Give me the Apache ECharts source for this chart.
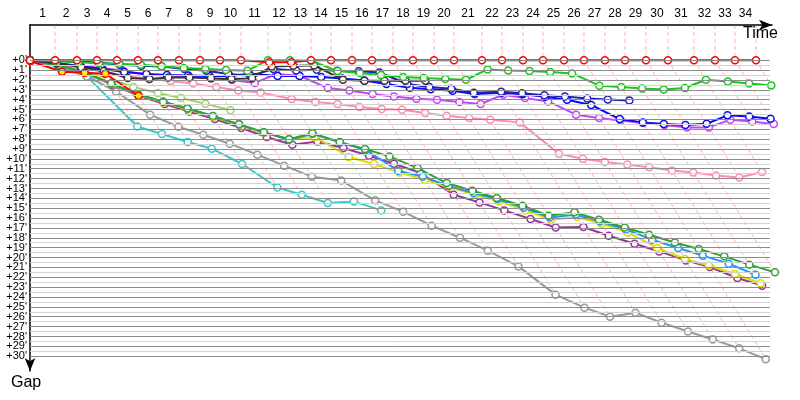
<!DOCTYPE html>
<html>
<head>
<meta charset="utf-8">
<script src="https://cdn.jsdelivr.net/npm/echarts@6/dist/echarts.min.js"></script>
<style>
  html, body { margin: 0; padding: 0; background: #fff; }
  #chart { width: 800px; height: 400px; }
</style>
</head>
<body>
<div id="chart"></div>
<script>
// leader's elapsed time (minutes) at the end of every lap, index 0 = start
var lapEnds = [0, 4.17, 7.83, 11.17, 14.5, 18.0, 21.33, 24.83, 28.33, 31.67, 35.17,
  39.67, 43.33, 46.83, 50.17, 53.67, 57.0, 60.5, 63.83, 67.33, 70.67,
  75.33, 78.67, 82.17, 85.5, 89.0, 92.33, 95.83, 99.17, 102.67, 106.33,
  110.67, 114.17, 117.5, 121.0];
// laps where the green car was in the lead
var greenLeadLaps = [11, 12];
// gap tick labels, split in two lists so neighbours never collide
var yLabelsEven = [0, 2, 4, 6, 8, 10, 12, 14, 16, 18, 20, 22, 24, 26, 28, 30];
var yLabelsOdd = [1, 3, 5, 7, 9, 11, 13, 15, 17, 19, 21, 23, 25, 27, 29];

// gap to the leader (minutes) at the end of each lap, index = lap
var gapRed = [0, 0, 0, 0, 0, 0, 0, 0, 0, 0, 0, 0.2, 0.2, 0, 0, 0, 0, 0, 0, 0, 0,
  0, 0, 0, 0, 0, 0, 0, 0, 0, 0, 0, 0, 0, 0];
var gapRed2 = [0.1, 1.17, 1.27, 1.37, 3.6];
var gapGreen = [0, 0.1, 0.2, 0.3, 0.35, 0.45, 0.6, 0.8, 0.9, 1.0, 1.06, 0, 0, 0.05,
  1.1, 1.3, 1.5, 1.7, 1.8, 1.9, 1.98, 0.93, 1.03, 1.09, 1.2, 1.34, 2.58, 2.72,
  2.86, 2.96, 2.82, 1.98, 2.15, 2.35, 2.55];
var gapBlack = [0, 0.3, 0.7, 1.1, 1.8, 1.9, 1.74, 1.74, 1.84, 1.9, 1.84, 0.63, 0.56,
  0.53, 1.98, 2.08, 2.08, 2.08, 2.08];
var gapBlue1 = [0, 0.05, 0.15, 0.22, 0.45, 0.55, 0.63, 0.9, 1.06, 1.4, 1.57, 0.9,
  1.03, 0.96, 1.06, 1.13, 1.24, 2.41, 2.72, 2.9, 3.3, 3.2, 3.35, 3.56, 3.67, 3.87,
  3.97, 4.07];
var gapBlue2 = [0, 0.3, 0.6, 0.9, 1.2, 1.4, 1.5, 1.55, 1.6, 1.6, 1.37, 1.6, 1.6, 1.7,
  1.85, 2.05, 2.41, 2.8, 2.95, 3.1, 3.43, 3.3, 3.45, 3.7, 4.0, 4.54, 5.96, 6.3,
  6.47, 6.57, 6.44, 5.59, 5.7, 5.93];
var gapViolet = [0, 0.3, 0.55, 0.8, 1.06, 1.47, 1.55, 1.65, 1.8, 2.0, 2.3, 1.4, 1.57,
  2.82, 3.06, 3.43, 3.67, 3.9, 4.0, 4.24, 4.44, 3.5, 3.83, 4.18, 5.52, 5.86, 6.1,
  6.36, 6.57, 6.81, 6.81, 6.03, 6.2, 6.47];
var gapPink = [0, 0.4, 0.8, 1.2, 1.6, 1.9, 2.1, 2.35, 2.72, 3.06, 3.26, 3.93, 4.24,
  4.44, 4.74, 4.95, 5.02, 5.35, 5.62, 5.86, 6.03, 6.3, 9.48, 9.98, 10.32, 10.56,
  10.86, 11.17, 11.37, 11.68, 11.88, 11.33];
var gapLightGreen = [0, 0.56, 1.13, 1.8, 2.72, 3.33, 3.83, 4.41, 5.08];
var gapCyan = [0, 0.7, 1.64, 6.71, 7.48, 8.29, 8.97, 10.52, 12.9, 13.63, 14.47,
  14.31, 15.22];
var gapGray = [0, 0.6, 1.6, 3.19, 5.52, 6.74, 7.55, 8.46, 9.57, 10.69, 11.8, 12.2,
  14.2, 15.35, 16.77, 17.99, 19.3, 20.9, 23.76, 25.08, 25.99, 25.59, 26.6, 27.5,
  28.3, 29.2, 30.3];
var gapPurple = [0, 0.5, 1.3, 2.48, 3.6, 4.44, 5.19, 5.96, 6.87, 7.78, 8.56, 8.23,
  8.9, 9.68, 10.49, 11.43, 13.63, 14.41, 15.22, 16.1, 16.95, 16.9, 17.79, 18.6,
  19.38, 20.29, 20.96, 22.07, 22.85];
var gapYellow = [0, 0.5, 1.25, 2.4, 3.5, 4.3, 5.0, 5.75, 6.6, 7.38, 7.99, 7.78, 9.81,
  10.52, 11.37, 12.11, 12.85, 13.63, 14.31, 15.22, 16.17, 15.89, 16.57, 17.45,
  19.03, 20.15, 20.8, 21.67, 22.6];
var gapLightBlue = [0, 0.5, 1.2, 2.35, 3.45, 4.2, 4.9, 5.65, 6.5, 7.3, 8.06, 7.45,
  8.33, 9.1, 11.2, 11.8, 12.75, 13.45, 14.1, 14.95, 15.95, 15.65, 16.35, 17.15,
  18.19, 19.03, 19.81, 20.62, 21.74];
var gapDarkGreen = [0, 0.5, 1.2, 2.35, 3.45, 4.2, 4.9, 5.65, 6.5, 7.3, 8.0, 7.4, 8.3,
  9.0, 9.75, 10.93, 12.45, 13.23, 13.97, 14.75, 15.76, 15.42, 16.17, 16.95, 17.69,
  18.47, 19.13, 19.88, 20.72, 21.5];

// drawing order: first = bottom
var cars = [
  { gaps: gapGray, color: '#9a9a9a' },
  { gaps: gapCyan, color: '#3cc8c8' },
  { gaps: gapLightGreen, color: '#a3d16e' },
  { gaps: gapPink, color: '#ff8cb0' },
  { gaps: gapPurple, color: '#993399' },
  { gaps: gapYellow, color: '#dcdc00' },
  { gaps: gapLightBlue, color: '#1a9af0' },
  { gaps: gapDarkGreen, color: '#33a033' },
  { gaps: gapViolet, color: '#c545f5' },
  { gaps: gapBlue2, color: '#0a0af0' },
  { gaps: gapBlue1, color: '#2020b8' },
  { gaps: gapBlack, color: '#333333' },
  { gaps: gapGreen, color: '#1ec31e' },
  { gaps: gapRed2, color: '#ff0000', fill: '#ffee00' },
  { gaps: gapRed, color: '#ff0000' }
];

var yTop = -3.57, yBottom = 31.5, vLineEnd = 31.9, hLineEnd = 123.33;
var font = 'Liberation Sans';

function toPoints(gaps) {
  return gaps.map(function (g, k) { return [lapEnds[k] + g, g]; });
}

var series = [];

// grid: half-minute horizontal lines and a vertical line at every lap
var gridLines = [];
for (var g = 0; g <= 30; g += 0.5) {
  gridLines.push([
    { coord: [0, g], lineStyle: { color: g % 1 === 0 ? '#8c8c8c' : '#d2d2d2' } },
    { coord: [hLineEnd, g] }
  ]);
}
lapEnds.slice(1).forEach(function (t) {
  gridLines.push([
    { coord: [t, yTop], lineStyle: { color: '#cccccc' } },
    { coord: [t, vLineEnd] }
  ]);
});
series.push({
  type: 'line', data: [[0, 0]], showSymbol: false, silent: true, clip: false, z: 1,
  lineStyle: { width: 0 },
  markLine: {
    silent: true, symbol: ['none', 'none'], label: { show: false },
    lineStyle: { width: 1, type: 'solid' },
    emphasis: { disabled: true },
    data: gridLines
  }
});

// lap lines: same lap for every car, from the leader to the last car on that lap
for (var k = 1; k < lapEnds.length; k++) {
  var gmax = 0;
  cars.forEach(function (c) { if (c.gaps.length > k) gmax = Math.max(gmax, c.gaps[k]); });
  var isGreen = greenLeadLaps.indexOf(k) >= 0;
  series.push({
    type: 'line', silent: true, clip: false, z: 2, showSymbol: false,
    data: [[lapEnds[k], yTop], [lapEnds[k], 0], [lapEnds[k] + gmax, gmax]],
    lineStyle: {
      width: 1, type: [4, 3],
      color: isGreen ? 'rgba(120,210,120,0.6)' : 'rgba(255,110,110,0.55)'
    }
  });
}

cars.forEach(function (c, i) {
  series.push({
    type: 'line', clip: false, z: 3 + i * 0.01, silent: true,
    data: toPoints(c.gaps),
    symbol: 'circle', symbolSize: 7, showSymbol: true,
    lineStyle: { color: c.color, width: 2 },
    itemStyle: { color: c.fill || '#ffffff', borderColor: c.color, borderWidth: 1.5 }
  });
});

var lapMids = [];
for (var m = 1; m < lapEnds.length; m++) lapMids.push((lapEnds[m - 1] + lapEnds[m]) / 2);

function gapAxis(values, showLine) {
  return {
    type: 'value', inverse: true, min: yTop, max: yBottom, position: 'left',
    axisLine: {
      show: showLine, onZero: false, lineStyle: { color: '#000', width: 1.5 },
      symbol: ['arrow', 'none'], symbolSize: [8, 13]
    },
    axisTick: { show: false },
    splitLine: { show: false },
    axisLabel: {
      customValues: values, margin: 3, color: '#000', fontSize: 11,
      fontFamily: font, showMinLabel: true, showMaxLabel: true,
      formatter: function (v) { return '+' + v + "'"; }
    }
  };
}

var chart = echarts.init(document.getElementById('chart'));
chart.setOption({
  animation: false,
  backgroundColor: '#fff',
  grid: { left: 30, top: 25, width: 742, height: 346 },
  xAxis: {
    type: 'value', position: 'top', min: 0, max: 123.67,
    axisLine: {
      onZero: false, lineStyle: { color: '#000', width: 1.5 },
      symbol: ['none', 'arrow'], symbolSize: [8, 13]
    },
    axisTick: { show: false },
    splitLine: { show: false },
    axisLabel: {
      customValues: lapMids, margin: 5, color: '#000', fontSize: 12, fontFamily: font,
      showMinLabel: true, showMaxLabel: true,
      formatter: function (v) {
        for (var j = 0; j < lapMids.length; j++) {
          if (Math.abs(lapMids[j] - v) < 1e-6) return String(j + 1);
        }
        return '';
      }
    }
  },
  yAxis: [gapAxis(yLabelsEven, true), gapAxis(yLabelsOdd, false)],
  graphic: [
    { type: 'text', left: 743, top: 26, style: { text: 'Time', fill: '#000', font: '16px "Liberation Sans"' } },
    { type: 'text', left: 11, top: 375, style: { text: 'Gap', fill: '#000', font: '16px "Liberation Sans"' } }
  ],
  series: series
});
</script>
</body>
</html>
